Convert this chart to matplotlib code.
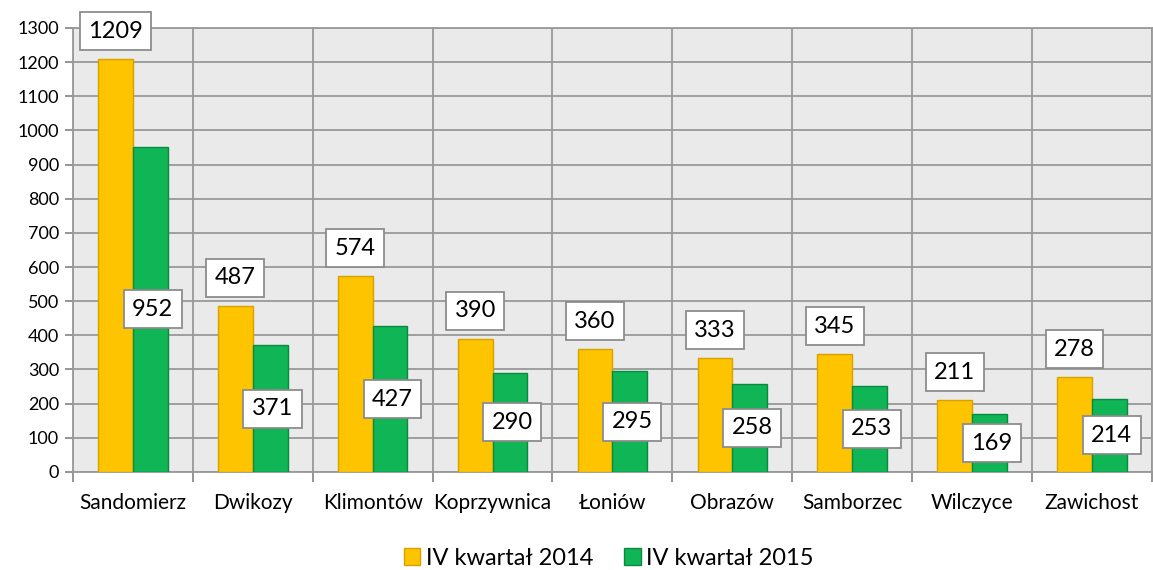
import matplotlib.pyplot as plt
from matplotlib.patches import Patch
import numpy as np

gminy = ["Sandomierz", "Dwikozy", "Klimontów", "Koprzywnica", "Łoniów",
         "Obrazów", "Samborzec", "Wilczyce", "Zawichost"]
kw2014 = [1209, 487, 574, 390, 360, 333, 345, 211, 278]
kw2015 = [952, 371, 427, 290, 295, 258, 253, 169, 214]

plt.rcParams["font.family"] = ["Lato", "DejaVu Sans"]

fig = plt.figure(figsize=(11.53, 5.70), dpi=100)
ax = fig.add_axes([0.0633, 0.172, 0.9357, 0.779])

x = np.arange(len(gminy))
w = 0.29
ax.set_facecolor("#EAEAEA")
ax.bar(x - w / 2, kw2014, w, color="#FFC400", edgecolor="#D9A000", linewidth=1, zorder=3)
ax.bar(x + w / 2, kw2015, w, color="#10B556", edgecolor="#0A8A40", linewidth=1, zorder=3)

box = dict(boxstyle="square,pad=0.36", facecolor="white", edgecolor="#8C8C8C", linewidth=1.3)
for i, (a, b) in enumerate(zip(kw2014, kw2015)):
    ax.annotate(str(a), (i - w / 2, a), xytext=(0, 20), textcoords="offset points",
                ha="center", va="center", fontsize=17, bbox=box, zorder=5,
                annotation_clip=False)
    ax.text(i + w / 2 + 0.02, b / 2, str(b), ha="center", va="center",
            fontsize=17, bbox=box, zorder=5)

ax.set_xlim(-0.5, len(gminy) - 0.5)
ax.set_ylim(0, 1300)
ax.set_yticks(range(0, 1301, 100))
ax.set_xticks(np.arange(-0.5, len(gminy), 1))
ax.set_xticklabels([])
ax.set_xticks(x, minor=True)
ax.set_xticklabels(gminy, minor=True, fontsize=15)
ax.tick_params(axis="x", which="minor", length=0, pad=15)
ax.tick_params(axis="x", which="major", length=7, color="#8C8C8C", width=1.3)
ax.tick_params(axis="y", length=6, color="#8C8C8C", width=1.3, labelsize=13, pad=4)

ax.grid(True, which="major", color="#999999", linewidth=1.3, zorder=0)
ax.set_axisbelow(True)
for s in ax.spines.values():
    s.set_color("#999999")
    s.set_linewidth(1.3)

handles = [Patch(facecolor="#FFC400", edgecolor="#D9A000", label="IV kwartał 2014"),
           Patch(facecolor="#10B556", edgecolor="#0A8A40", label="IV kwartał 2015")]
fig.legend(handles=handles, loc="lower center", bbox_to_anchor=(0.528, -0.035), ncol=2,
           frameon=False, fontsize=17, handlelength=0.7, handleheight=0.7,
           handletextpad=0.25, columnspacing=1.3)

fig.savefig("out.png", dpi=100)
